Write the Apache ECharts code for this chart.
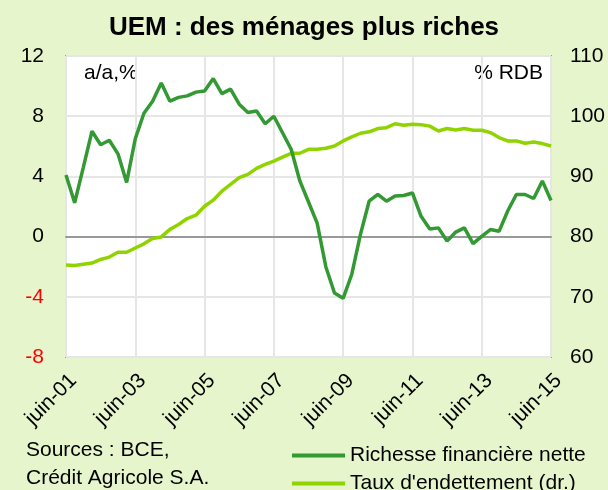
<!DOCTYPE html>
<html>
<head>
<meta charset="utf-8">
<script src="https://cdn.jsdelivr.net/npm/echarts@6/dist/echarts.min.js"></script>
<style>
  html, body { margin: 0; padding: 0; background: #e6f5cc; }
  #main { width: 608px; height: 490px; }
</style>
</head>
<body>
<div id="main"></div>
<script>
// trimestriel, juin-01 -> juin-15
var months = ['juin', 'sept', 'déc', 'mars'];
var categories = [];
for (var i = 0; i < 57; i++) {
  var yr = 1 + Math.floor((i + 1) / 4);
  categories.push(months[i % 4] + '-' + (yr < 10 ? '0' + yr : '' + yr));
}

// Richesse financière nette, a/a %
var richesse = [
  4.1, 2.25, 4.6, 7.0, 6.1, 6.4, 5.5, 3.6, 6.5, 8.2,
  9.0, 10.2, 9.0, 9.25, 9.35, 9.6, 9.67, 10.5, 9.5, 9.8,
  8.8, 8.25, 8.35, 7.5, 8.0, 6.9, 5.8, 3.7, 2.3, 0.9,
  -2.0, -3.75, -4.1, -2.5, 0.15, 2.35, 2.8, 2.35, 2.7, 2.73,
  2.9, 1.35, 0.5, 0.58, -0.3, 0.3, 0.58, -0.47, 0.02, 0.47,
  0.35, 1.7, 2.8, 2.8, 2.53, 3.7, 2.4
];

// Taux d'endettement, % RDB (axe droit)
var endettement = [
  75.3, 75.2, 75.4, 75.6, 76.2, 76.6, 77.4, 77.4, 78.1, 78.8,
  79.7, 79.95, 81.2, 82.0, 83.0, 83.55, 85.05, 86.05, 87.55, 88.67,
  89.78, 90.33, 91.33, 92.0, 92.55, 93.2, 93.83, 93.85, 94.5, 94.5,
  94.67, 95.05, 95.9, 96.55, 97.17, 97.4, 97.95, 98.1, 98.75, 98.5,
  98.67, 98.6, 98.35, 97.55, 97.95, 97.7, 97.95, 97.67, 97.67, 97.28,
  96.45, 95.9, 95.9, 95.5, 95.7, 95.45, 95.05
];

var font = 'Arial, "Liberation Sans", sans-serif';
var chart = echarts.init(document.getElementById('main'));

var option = {
  backgroundColor: '#e6f5cc',
  animation: false,
  title: {
    text: 'UEM : des ménages plus riches',
    left: 'center',
    top: 10,
    textStyle: { fontFamily: font, fontSize: 26, fontWeight: 'bold', color: '#000' }
  },
  grid: {
    left: 66, right: 57, top: 56, bottom: 133,
    outerBoundsMode: 'none',
    containLabel: false,
    show: true, backgroundColor: '#fff', borderColor: '#999', borderWidth: 2
  },
  legend: {
    orient: 'vertical',
    left: 287,
    top: 440,
    height: 80,
    itemWidth: 53,
    itemHeight: 4,
    itemGap: 7,
    icon: 'rect',
    textStyle: { fontFamily: font, fontSize: 21, color: '#000' },
    data: ['Richesse financière nette', "Taux d'endettement (dr.)"]
  },
  xAxis: {
    type: 'category',
    data: categories,
    boundaryGap: false,
    axisLine: { onZero: true, lineStyle: { color: '#999', width: 2 } },
    axisTick: { show: false },
    axisLabel: {
      interval: 7,
      rotate: 45,
      margin: 13,
      verticalAlign: 'top',
      fontFamily: font,
      fontSize: 21,
      color: '#000'
    },
    splitLine: { show: true, interval: 7, lineStyle: { color: '#e6e6e6', width: 2 } }
  },
  yAxis: [
    {
      type: 'value',
      min: -8, max: 12, interval: 4,
      axisLine: { show: false },
      axisTick: { show: false },
      axisLabel: {
        margin: 22,
        fontFamily: font,
        fontSize: 21,
        color: function (v) { return v < 0 ? '#ff0000' : '#000'; }
      },
      splitLine: { lineStyle: { color: '#e6e6e6', width: 2 } }
    },
    {
      type: 'value',
      min: 60, max: 110, interval: 10,
      axisLine: { show: false },
      axisTick: { show: false },
      axisLabel: { margin: 19, fontFamily: font, fontSize: 21, color: '#000' },
      splitLine: { show: false }
    }
  ],
  graphic: [
    { type: 'text', left: 84, top: 63, style: { text: 'a/a,%', font: '21px ' + font, fill: '#000' } },
    { type: 'text', right: 65, top: 63, style: { text: '% RDB', font: '21px ' + font, fill: '#000' } },
    { type: 'text', left: 26, top: 440, style: { text: 'Sources : BCE,', font: '21px ' + font, fill: '#000' } },
    { type: 'text', left: 26, top: 468, style: { text: 'Crédit Agricole S.A.', font: '21px ' + font, fill: '#000' } }
  ],
  series: [
    {
      name: 'Richesse financière nette',
      type: 'line',
      data: richesse,
      yAxisIndex: 0,
      showSymbol: false,
      symbol: 'none',
      z: 3,
      color: '#339933',
      lineStyle: { color: '#339933', width: 3.5 }
    },
    {
      name: "Taux d'endettement (dr.)",
      type: 'line',
      data: endettement,
      yAxisIndex: 1,
      showSymbol: false,
      symbol: 'none',
      z: 2,
      color: '#8fd400',
      lineStyle: { color: '#8fd400', width: 3.5 }
    }
  ]
};

chart.setOption(option);
</script>
</body>
</html>
